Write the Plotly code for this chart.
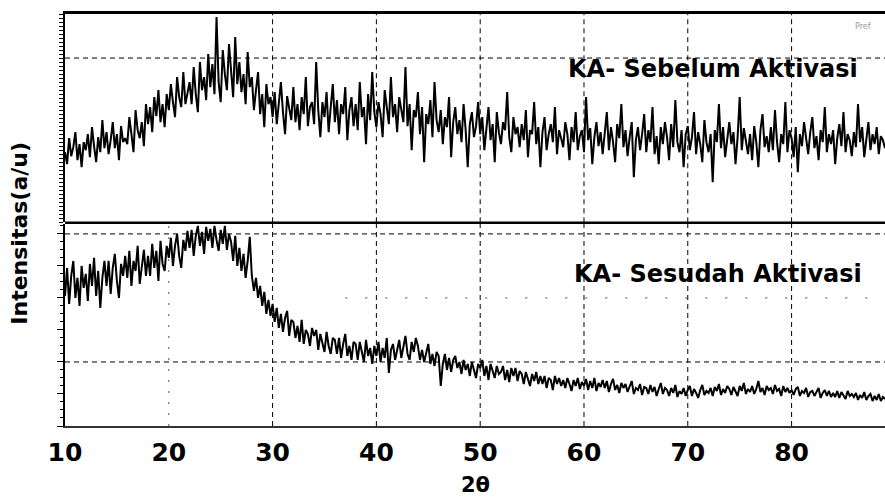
import plotly.graph_objects as go

# 2-theta sampling grid (degrees)
two_theta_start = 10.0
two_theta_step = 0.2

# KA - Sebelum Aktivasi (a/u)
intensity_before = [
    70, 58, 84, 66, 75, 90, 62, 78, 55, 80,
    72, 88, 65, 95, 76, 60, 85, 70, 102, 74,
    90, 68, 82, 100, 74, 88, 62, 96, 80, 84,
    78, 105, 88, 70, 112, 92, 84, 100, 76, 118,
    98, 115, 90, 125, 106, 132, 100, 118, 95, 128,
    112, 138, 120, 105, 145, 125, 115, 150, 118, 130,
    140, 118, 155, 128, 110, 160, 132, 145, 122, 168,
    135, 158, 128, 205, 140, 120, 172, 148, 132, 178,
    150, 125, 185, 138, 160, 130, 148, 118, 170, 135,
    145, 112, 132, 150, 108, 128, 95, 138, 118, 125,
    105, 130, 98, 122, 140, 110, 88, 126, 115, 102,
    135, 100, 118, 92, 125, 108, 145, 96, 115, 120,
    98, 160, 112, 85, 120, 105, 130, 90, 115, 138,
    100, 122, 88, 118, 108, 135, 82, 112, 125, 96,
    118, 92, 140, 105, 115, 78, 128, 102, 150, 110,
    95, 120, 108, 85, 132, 112, 98, 145, 105, 118,
    90, 125, 110, 100, 155, 96, 118, 72, 112, 105,
    130, 88, 115, 60, 108, 98, 122, 85, 140, 102,
    90, 112, 78, 105, 95, 125, 65, 100, 115, 88,
    102, 80, 118, 92, 55, 98, 110, 85, 96, 120,
    88, 105, 72, 95, 115, 82, 98, 60, 110, 90,
    78, 100, 92, 130, 85, 70, 105, 88, 95, 75,
    98, 82, 112, 65, 92, 88, 120, 78, 95, 55,
    90, 105, 72, 88, 98, 80, 115, 68, 92, 84,
    75, 100, 88, 62, 95, 80, 110, 72, 86, 92,
    70, 125, 82, 94, 58, 85, 100, 76, 90, 68,
    88, 110, 72, 95, 80, 60, 98, 84, 118, 75,
    92, 66, 85, 100, 45, 82, 95, 72, 88, 108,
    70, 92, 80, 115, 68, 86, 58, 95, 78, 100,
    85, 62, 98, 75, 122, 80, 70, 92, 55, 88,
    96, 72, 85, 110, 68, 90, 78, 60, 102, 80,
    70, 88, 40, 92, 80, 118, 74, 95, 65, 86,
    100, 78, 90, 58, 85, 125, 72, 94, 82, 68,
    88, 62, 96, 80, 55, 92, 108, 75, 86, 70,
    95, 72, 112, 80, 60, 88, 78, 120, 70, 92,
    84, 65, 95, 50, 88, 76, 100, 82, 68, 90,
    105, 74, 86, 62, 92, 80, 115, 70, 88, 78,
    92, 58, 84, 98, 76, 110, 70, 88, 82, 66,
    90, 75, 118, 80, 95, 65, 85, 100, 72, 88,
    78, 95, 68, 86, 82, 74,
]

# KA - Sesudah Aktivasi (a/u)
intensity_after = [
    130, 158, 122, 150, 165, 128, 148, 120, 160, 138,
    152, 125, 162, 140, 168, 130, 155, 118, 148, 165,
    140, 165, 132, 158, 172, 145, 128, 162, 150, 170,
    148, 175, 140, 165, 155, 180, 142, 162, 176, 150,
    170, 150, 182, 158, 175, 145, 185, 162, 155, 180,
    168, 188, 160, 180, 192, 170, 158, 186, 175, 195,
    178, 196, 170, 190, 200, 180, 194, 172, 199, 185,
    197, 178, 200, 186, 175, 196, 182, 200, 176, 192,
    184, 165, 190, 160, 178, 155, 172, 148, 165, 189,
    150, 135, 148, 128, 140, 120, 134, 112, 126, 110,
    122, 104, 118, 98, 112, 94, 108, 115, 90, 106,
    104, 88, 100, 84, 106, 82, 96, 92, 80, 98,
    90, 96, 76, 92, 82, 74, 94, 80, 72, 88,
    86, 72, 88, 68, 82, 92, 70, 80, 66, 84,
    82, 66, 84, 72, 64, 86, 70, 78, 62, 80,
    70, 84, 64, 78, 68, 88, 53, 76, 82, 66,
    78, 86, 68, 80, 90, 72, 66, 84, 74, 88,
    80, 66, 76, 64, 74, 82, 62, 72, 60, 74,
    70, 40, 62, 72, 56, 68, 54, 66, 70, 58,
    64, 52, 66, 56, 62, 50, 64, 55, 48, 62,
    58, 66, 50, 60, 46, 62, 54, 48, 60, 52,
    54, 60, 46, 56, 44, 58, 50, 58, 45, 55,
    52, 42, 54, 48, 40, 52, 45, 54, 42, 50,
    42, 50, 38, 48, 46, 36, 50, 42, 48, 40,
    46, 38, 48, 42, 35, 46, 40, 48, 37, 44,
    40, 47, 36, 45, 38, 48, 35, 43, 39, 46,
    38, 45, 34, 42, 47, 36, 41, 33, 43, 38,
    42, 34, 40, 45, 32, 38, 36, 42, 31, 39,
    38, 32, 41, 34, 39, 30, 37, 43, 32, 38,
    36, 30, 38, 33, 41, 29, 35, 32, 38, 30,
    36, 40, 30, 37, 33, 28, 36, 41, 31, 35,
    33, 38, 30, 39, 35, 42, 31, 37, 33, 40,
    37, 31, 39, 34, 30, 40, 35, 43, 32, 37,
    34, 40, 32, 37, 45, 34, 38, 31, 40, 36,
    38, 32, 41, 35, 37, 30, 40, 34, 38, 33,
    36, 31, 37, 39, 30, 35, 33, 38, 29, 34,
    35, 30, 34, 38, 28, 33, 36, 30, 35, 29,
    33, 29, 35, 28, 34, 31, 27, 35, 30, 32,
    29, 33, 26, 31, 28, 34, 26, 30, 32, 25,
    30, 26, 32, 25, 29, 27,
]

two_theta = [round(two_theta_start + two_theta_step * i, 2) for i in range(len(intensity_before))]

x_tick_values = [10, 20, 30, 40, 50, 60, 70, 80]
label_before = "KA- Sebelum Aktivasi"
label_after = "KA- Sesudah Aktivasi"
y_title = "Intensitas(a/u)"
x_title = "2θ"

FONT = "DejaVu Sans"

fig = go.Figure()
fig.add_trace(go.Scatter(x=two_theta, y=intensity_before, mode="lines",
                         line=dict(color="black", width=2), xaxis="x", yaxis="y",
                         showlegend=False, hoverinfo="skip"))
fig.add_trace(go.Scatter(x=two_theta[:len(intensity_after)], y=intensity_after, mode="lines",
                         line=dict(color="black", width=2), xaxis="x2", yaxis="y2",
                         showlegend=False, hoverinfo="skip"))

shapes = []
dash = "5px,4px"
# vertical grid lines
for v in x_tick_values[2:]:
    shapes.append(dict(type="line", xref="x", yref="y domain", x0=v, x1=v, y0=0, y1=1,
                       line=dict(color="black", width=1, dash=dash), layer="below"))
for v in x_tick_values[2:]:
    shapes.append(dict(type="line", xref="x2", yref="y2 domain", x0=v, x1=v, y0=0, y1=1,
                       line=dict(color="black", width=1, dash=dash), layer="below"))
shapes.append(dict(type="line", xref="x2", yref="y2 domain", x0=20, x1=20, y0=0, y1=1,
                   line=dict(color="#555", width=1, dash="2px,9px"), layer="below"))
# horizontal grid lines
shapes.append(dict(type="line", xref="x domain", yref="y", x0=0, x1=1, y0=164, y1=164,
                   line=dict(color="black", width=1, dash=dash), layer="below"))
for hv in (192, 64):
    shapes.append(dict(type="line", xref="x2 domain", yref="y2", x0=0, x1=1, y0=hv, y1=hv,
                       line=dict(color="black", width=1, dash=dash), layer="below"))
shapes.append(dict(type="line", xref="x2", yref="y2", x0=37, x1=89, y0=128, y1=128,
                   line=dict(color="#444", width=1, dash="2px,18px"), layer="below"))
# separator between panels
shapes.append(dict(type="line", xref="paper", yref="paper", x0=0, x1=1, y0=0.4935, y1=0.4935,
                   line=dict(color="black", width=2.5)))

annotations = [
    dict(text=label_before, xref="x", yref="y", x=72.4, y=153, showarrow=False,
         font=dict(family=FONT, size=24, color="black", weight="bold")),
    dict(text=label_after, xref="x2", yref="y2", x=72.9, y=152, showarrow=False,
         font=dict(family=FONT, size=24, color="black", weight="bold")),
    dict(text=y_title, xref="paper", yref="paper", x=-0.0555, y=0.468, textangle=-90,
         showarrow=False, xanchor="center", yanchor="middle",
         font=dict(family=FONT, size=22, color="black", weight="bold")),
    dict(text=x_title, xref="paper", yref="paper", x=0.501, y=-0.143, showarrow=False,
         xanchor="center", yanchor="middle",
         font=dict(family=FONT, size=21, color="black", weight="bold")),
    dict(text="Pref", xref="paper", yref="paper", x=0.985, y=0.985, showarrow=False,
         xanchor="right", yanchor="top", font=dict(family=FONT, size=8, color="#999")),
]

fig.update_layout(
    width=885, height=499,
    margin=dict(l=65, r=0, t=14, b=73, autoexpand=False),
    paper_bgcolor="white", plot_bgcolor="white",
    showlegend=False,
    shapes=shapes, annotations=annotations,
    xaxis=dict(domain=[0, 1], anchor="y", range=[10, 89], side="top",
               showline=True, linecolor="black", linewidth=2.5, mirror=False,
               showgrid=False, zeroline=False, showticklabels=False, ticks="",
               automargin=False),
    yaxis=dict(domain=[0.4945, 1], anchor="x", range=[0, 208],
               showline=True, linecolor="black", linewidth=1.5,
               showgrid=False, zeroline=False, showticklabels=False,
               ticks="outside", ticklen=4, tickwidth=1, tickcolor="black",
               tick0=0, dtick=4, automargin=False),
    xaxis2=dict(domain=[0, 1], anchor="y2", range=[10, 89], matches="x",
                showline=True, linecolor="#333", linewidth=1.5,
                showgrid=False, zeroline=False,
                tickmode="array", tickvals=x_tick_values, ticktext=[str(v) for v in x_tick_values],
                ticks="", ticklabelstandoff=3, automargin=False,
                tickfont=dict(family=FONT, size=25, color="black", weight="bold")),
    yaxis2=dict(domain=[0, 0.4905], anchor="x2", range=[0, 202],
                showline=True, linecolor="black", linewidth=1.5,
                showgrid=False, zeroline=False, showticklabels=False,
                ticks="outside", ticklen=6, tickwidth=1, tickcolor="black",
                tick0=0, dtick=32, automargin=False,
                minor=dict(ticks="outside", ticklen=3, tickcolor="black", dtick=8)),
)

fig.write_html("out.html", config={"displayModeBar": False},
               post_script="document.body.style.margin='0';document.body.style.overflow='hidden';")
